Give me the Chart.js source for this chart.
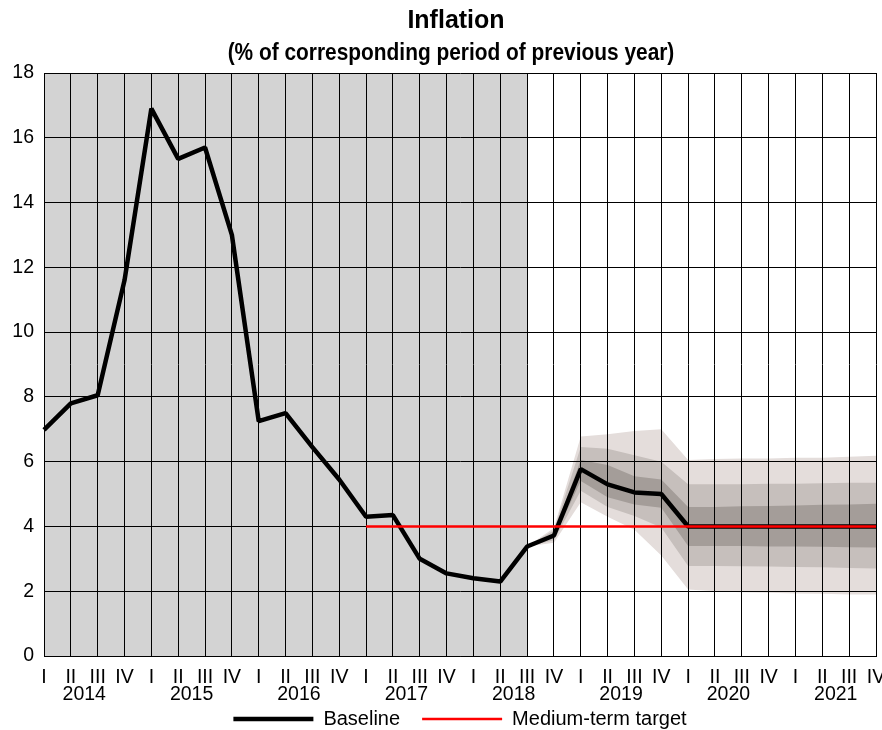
<!DOCTYPE html>
<html>
<head>
<meta charset="utf-8">
<title>Inflation</title>
<script src="https://cdn.jsdelivr.net/npm/chart.js@4.4.1/dist/chart.umd.min.js"></script>
<style>
    body { margin: 0; background: #fff; }
    #wrap { position: relative; width: 882px; height: 730px; }
    #chart { position: absolute; left: 0; top: 0; }
    .heading {
        position: absolute; width: 882px; text-align: center;
        font-family: "Liberation Sans", Arial, sans-serif; font-weight: bold;
        color: #000; white-space: nowrap;
    }
    #title { left: 15px; top: 7px; font-size: 25px; line-height: 25px; }
    #subtitle { left: 10px; top: 40px; font-size: 24px; line-height: 24px; transform: scaleX(0.87); }
</style>
</head>
<body>
<div id="wrap">
    <canvas id="chart" width="882" height="730"></canvas>
    <div class="heading" id="title">Inflation</div>
    <div class="heading" id="subtitle">(% of corresponding period of previous year)</div>
</div>
<script>
// quarters 2014 I .. 2021 IV
const years = [2014, 2015, 2016, 2017, 2018, 2019, 2020, 2021];
const quarterNames = ["I", "II", "III", "IV"];

const inflation = [
    6.98, 7.8, 8.05, 11.6,
    16.9, 15.35, 15.7, 13.0,
    7.25, 7.5, 6.45, 5.45,
    4.3, 4.35, 3.0, 2.55,
    2.4, 2.3, 3.38, 3.72,
    5.77, 5.3, 5.05, 5.0,
    4.0, 4.0, 4.0, 4.0,
    4.0, 4.0, 4.0, 4.0
];
const target = [
    null, null, null, null, null, null, null, null, null, null, null, null,
    4.0, 4.0, 4.0, 4.0, 4.0, 4.0, 4.0, 4.0, 4.0, 4.0,
    4.0, 4.0, 4.0, 4.0, 4.0, 4.0, 4.0, 4.0, 4.0, 4.0
];

// last quarter of actual data (2018 III), shaded grey
const lastActual = 18;

// forecast fan, 2018 III .. 2021 IV
const outerHi = [3.38, 3.95, 6.78, 6.85, 6.95, 7.0, 6.05, 6.08, 6.1, 6.1, 6.12, 6.12, 6.15, 6.18];
const midHi   = [3.38, 3.88, 6.45, 6.4, 6.2, 6.0, 5.3, 5.3, 5.3, 5.32, 5.32, 5.33, 5.35, 5.35];
const innerHi = [3.38, 3.8, 6.05, 5.9, 5.55, 5.45, 4.6, 4.6, 4.62, 4.63, 4.65, 4.67, 4.68, 4.7];
const innerLo = [3.38, 3.64, 5.4, 4.9, 4.68, 4.58, 3.4, 3.4, 3.4, 3.38, 3.38, 3.37, 3.36, 3.35];
const midLo   = [3.38, 3.57, 5.1, 4.6, 4.32, 3.97, 2.78, 2.78, 2.77, 2.76, 2.75, 2.74, 2.72, 2.7];
const outerLo = [3.38, 3.5, 4.75, 4.3, 3.9, 3.1, 2.05, 2.0, 1.97, 1.95, 1.93, 1.92, 1.9, 1.9];

const labels = [];
for (const y of years) {
    for (const q of quarterNames) labels.push(q);
}

const yMax = 18;
const shade = labels.map((_, i) => (i <= lastActual ? yMax : null));
const pad = new Array(lastActual).fill(null);
const fan = arr => pad.concat(arr);

const font = { family: "'Liberation Sans', Arial, sans-serif", size: 19.5 };

function band(data, color, fillTo, order) {
    return {
        data: data,
        borderColor: "transparent",
        borderWidth: 0,
        backgroundColor: color,
        pointRadius: 0,
        fill: fillTo === null ? false : { target: fillTo },
        order: order
    };
}

const ctx = document.getElementById("chart");
new Chart(ctx, {
    type: "line",
    data: {
        labels: labels,
        datasets: [
            {
                label: "Baseline",
                data: inflation,
                borderColor: "#000",
                backgroundColor: "#000",
                borderWidth: 4.5,
                borderJoinStyle: "bevel",
                pointRadius: 0,
                fill: false,
                order: 1
            },
            {
                label: "Medium-term target",
                data: target,
                borderColor: "#f00",
                backgroundColor: "#f00",
                borderWidth: 2.5,
                pointRadius: 0,
                fill: false,
                order: 0
            },
            band(fan(outerHi), "#e4dddb", 3, 9),
            band(fan(outerLo), "#e4dddb", null, 9),
            band(fan(midHi), "#c6bfbc", 5, 8),
            band(fan(midLo), "#c6bfbc", null, 8),
            band(fan(innerHi), "#a49d99", 7, 7),
            band(fan(innerLo), "#a49d99", null, 7),
            {
                data: shade,
                borderColor: "transparent",
                borderWidth: 0,
                backgroundColor: "#d3d3d3",
                pointRadius: 0,
                fill: "start",
                order: 10
            }
        ]
    },
    options: {
        responsive: false,
        animation: false,
        layout: { padding: { top: 73, left: 0, right: 6, bottom: -9 } },
        plugins: {
            filler: { drawTime: "beforeDraw" },
            tooltip: { enabled: false },
            legend: {
                position: "bottom",
                fullSize: false,
                labels: {
                    usePointStyle: true,
                    pointStyle: "line",
                    pointStyleWidth: 80,
                    boxWidth: 80,
                    boxHeight: 4,
                    padding: 22,
                    color: "#000",
                    font: { family: font.family, size: 20 },
                    filter: item => item.datasetIndex < 2,
                    sort: (a, b) => a.datasetIndex - b.datasetIndex
                }
            }
        },
        scales: {
            x: {
                type: "category",
                weight: 0,
                grid: { color: "#000", lineWidth: 1, drawTicks: false },
                border: { color: "#000", width: 1 },
                ticks: { color: "#000", font: font, autoSkip: false, maxRotation: 0, padding: 9.5 },
                afterFit: s => { s.height = 30; s.paddingLeft = 0; s.paddingRight = 0; }
            },
            years: {
                type: "linear",
                position: "bottom",
                weight: 1,
                min: 0,
                max: labels.length - 1,
                grid: { display: false, drawTicks: false },
                border: { display: false },
                afterBuildTicks: s => {
                    s.ticks = years.map((y, k) => ({ value: k * 4 + 1.5 }));
                },
                ticks: {
                    color: "#000",
                    font: font,
                    autoSkip: false,
                    maxRotation: 0,
                    mirror: true,
                    padding: -20.5,
                    callback: (v, i) => String(years[i])
                },
                afterFit: s => { s.height = 1; s.paddingLeft = 0; s.paddingRight = 0; }
            },
            y: {
                min: 0,
                max: yMax,
                grid: { color: "#000", lineWidth: 1, drawTicks: false },
                border: { color: "#000", width: 1 },
                ticks: { stepSize: 2, color: "#000", font: font, padding: 10 },
                afterFit: s => { s.width = 44; }
            }
        }
    }
});
</script>
</body>
</html>
